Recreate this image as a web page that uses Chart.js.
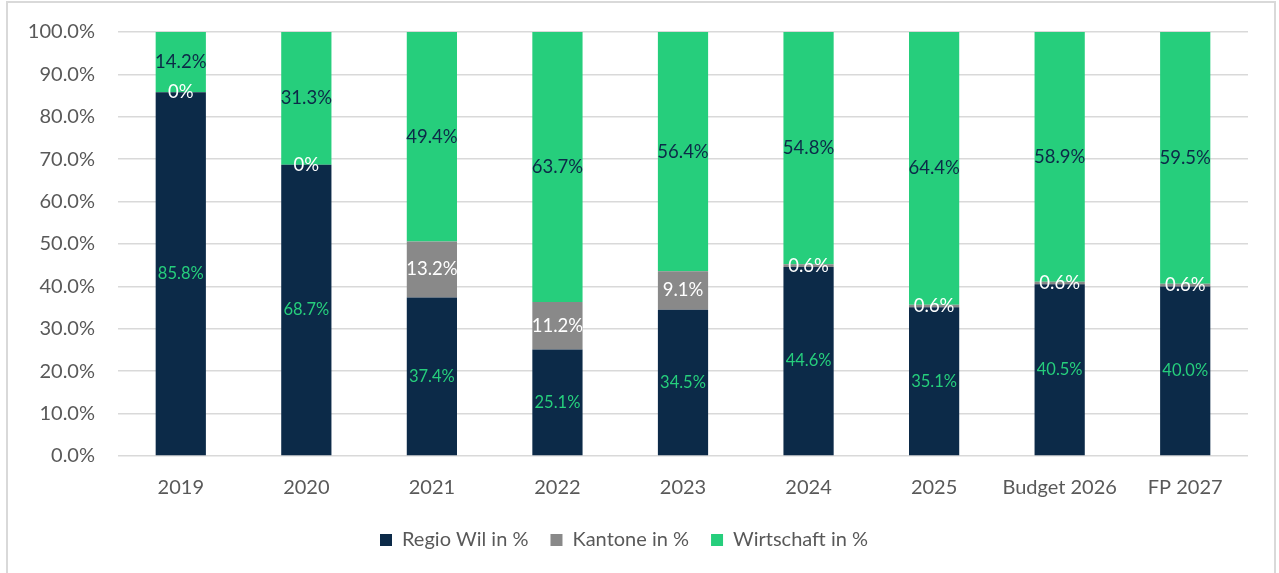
<!DOCTYPE html>
<html>
<head>
<meta charset="utf-8">
<script src="https://cdn.jsdelivr.net/npm/chart.js@4.4.1/dist/chart.umd.min.js"></script>
<style>
  html, body { margin: 0; padding: 0; background: #ffffff; }
  .wrap { position: relative; width: 1279px; height: 573px; }
  .frame { position: absolute; left: 6px; top: 1px; width: 1270px; height: 600px; border: 2px solid #d9d9d9; box-sizing: border-box; }
  canvas { position: absolute; left: 0; top: 0; }
</style>
</head>
<body>
<div class="wrap">
  <div class="frame"></div>
  <canvas id="shareChart" width="1279" height="573"></canvas>
</div>
<script>
// categories and series (values in %)
const categories = ['2019', '2020', '2021', '2022', '2023', '2024', '2025', 'Budget 2026', 'FP 2027'];
const regioWil = [85.8, 68.7, 37.4, 25.1, 34.5, 44.6, 35.1, 40.5, 40.0];
const kantone = [0, 0, 13.2, 11.2, 9.1, 0.6, 0.6, 0.6, 0.6];
const wirtschaft = [14.2, 31.3, 49.4, 63.7, 56.4, 54.8, 64.4, 58.9, 59.5];

const FONT = 'Lato';
const NAVY = '#0c2a48';
const GREY = '#898989';
const GREEN = '#26ce7c';

// label text, the way the original shows them
function fmt(v) {
    if (v === 0) return '0%';
    return v.toFixed(1) + '%';
}

// draws value labels in the middle of every segment
const segmentLabels = {
    id: 'segmentLabels',
    afterDatasetsDraw(chart) {
        const ctx = chart.ctx;
        ctx.save();
        ctx.textAlign = 'center';
        ctx.textBaseline = 'middle';
        chart.data.datasets.forEach((ds, i) => {
            const meta = chart.getDatasetMeta(i);
            ctx.fillStyle = ds.labelColor;
            ctx.font = ds.labelSize + 'px ' + FONT;
            meta.data.forEach((bar, j) => {
                const mid = (bar.y + bar.base) / 2;
                ctx.fillText(fmt(ds.data[j]), bar.x, mid);
            });
        });
        ctx.restore();
    }
};

new Chart(document.getElementById('shareChart'), {
    type: 'bar',
    data: {
        labels: categories,
        datasets: [
            { label: 'Regio Wil in %', data: regioWil, backgroundColor: NAVY, labelColor: GREEN, labelSize: 16.5 },
            { label: 'Kantone in %', data: kantone, backgroundColor: GREY, labelColor: '#ffffff', labelSize: 18.5 },
            { label: 'Wirtschaft in %', data: wirtschaft, backgroundColor: GREEN, labelColor: NAVY, labelSize: 18.5 }
        ]
    },
    options: {
        responsive: false,
        animation: false,
        devicePixelRatio: 1,
        datasets: { bar: { categoryPercentage: 1, barPercentage: 0.4 } },
        layout: { padding: { left: 0, right: 31, top: 15, bottom: 13 } },
        plugins: {
            tooltip: { enabled: false },
            legend: {
                position: 'bottom',
                labels: {
                    boxWidth: 12, boxHeight: 12, padding: 22,
                    color: '#595959',
                    font: { family: FONT, size: 20 }
                }
            }
        },
        scales: {
            x: {
                stacked: true,
                afterFit(scale) { scale.height = 52; },
                grid: { display: false },
                border: { display: false },
                ticks: { color: '#595959', font: { family: FONT, size: 20 }, padding: 12 }
            },
            y: {
                stacked: true,
                min: 0, max: 100,
                afterFit(scale) { scale.width = 118; scale.paddingTop = 32; },
                grid: { color: '#d9d9d9', lineWidth: 1.5, drawTicks: false },
                border: { display: false },
                ticks: {
                    stepSize: 10,
                    padding: 23,
                    color: '#595959',
                    font: { family: FONT, size: 20 },
                    callback: v => v.toFixed(1) + '%'
                }
            }
        }
    },
    plugins: [segmentLabels]
});
</script>
</body>
</html>
